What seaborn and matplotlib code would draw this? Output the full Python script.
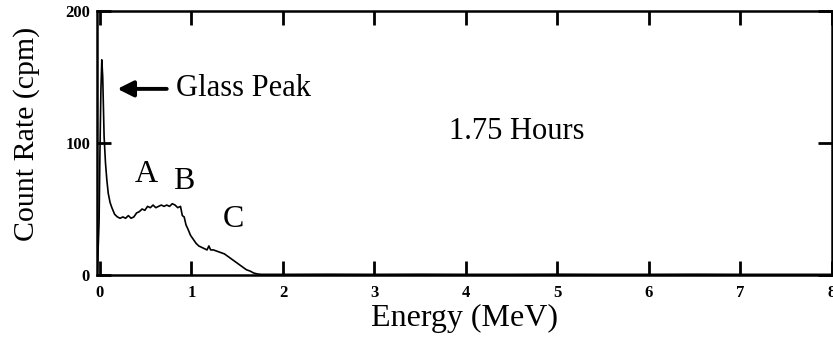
import matplotlib
matplotlib.use("Agg")
import matplotlib.pyplot as plt
import seaborn as sns
import pandas as pd

# Energy spectrum after 1.75 hours of counting
energy_mev = [-0.03, -0.01, 0.0, 0.01, 0.02, 0.03, 0.045, 0.06, 0.075, 0.09,
              0.11, 0.13, 0.16, 0.19, 0.22, 0.25, 0.28, 0.31, 0.34, 0.37,
              0.40, 0.43, 0.46, 0.49, 0.52, 0.55, 0.58, 0.61, 0.64, 0.67,
              0.70, 0.73, 0.76, 0.79, 0.82, 0.85, 0.88, 0.90, 0.92, 0.94,
              0.96, 0.99, 1.02, 1.05, 1.08, 1.11, 1.14, 1.17, 1.19, 1.21,
              1.24, 1.28, 1.32, 1.36, 1.40, 1.44, 1.48, 1.52, 1.56, 1.60,
              1.64, 1.68, 1.72, 1.76, 1.80, 2.0, 2.5, 3.0, 3.5, 4.0,
              4.5, 5.0, 5.5, 6.0, 6.5, 7.0, 7.5, 8.0]
count_rate = [0, 40, 95, 140, 163, 150, 105, 85, 72, 62,
              55, 51, 46, 44, 43, 44, 43, 45, 43, 44,
              47, 48, 50, 49, 52, 51, 53, 51, 52, 53,
              52, 53, 52, 54, 53, 51, 52, 45, 44, 38,
              35, 30, 27, 24, 22, 21, 20, 19, 22, 19,
              19, 18, 17, 16, 14, 12, 10, 8, 6, 4,
              3, 1.5, 0.8, 0.5, 0.5, 0.5, 0.6, 0.5, 0.6, 0.5,
              0.5, 0.6, 0.5, 0.5, 0.6, 0.5, 0.5, 0.5]

x_ticks = [0, 1, 2, 3, 4, 5, 6, 7, 8]
y_ticks = [0, 100, 200]

peak_labels = ["A", "B", "C"]
peak_label_x = [0.51, 0.92, 1.46]
peak_label_y = [76, 71, 42]

sns.set_theme(style="ticks")
plt.rcParams["font.family"] = ["Liberation Serif", "DejaVu Serif"]
plt.rcParams["text.color"] = "black"
plt.rcParams["axes.labelcolor"] = "black"

df = pd.DataFrame({"Energy (MeV)": energy_mev, "Count Rate (cpm)": count_rate})

fig = plt.figure(figsize=(8.33, 3.49), dpi=100)
ax = fig.add_axes([0.1164, 0.212, 0.8824, 0.7565])

sns.lineplot(data=df, x="Energy (MeV)", y="Count Rate (cpm)", ax=ax,
             color="black", linewidth=1.2, sort=False)

ax.set_xlim(-0.033, 8.0)
ax.set_ylim(0, 200)
ax.set_xticks(x_ticks)
ax.set_yticks(y_ticks)
ax.tick_params(axis="both", direction="in", length=10, width=2, labelsize=12,
               top=True, right=True, colors="black")
ax.tick_params(axis="x", pad=7)
ax.tick_params(axis="y", pad=5)
for lbl in ax.get_xticklabels() + ax.get_yticklabels():
    lbl.set_fontweight("bold")

for side in ["left", "right", "top", "bottom"]:
    ax.spines[side].set_visible(True)
    ax.spines[side].set_linewidth(1.8)
    ax.spines[side].set_color("black")

ax.set_xlabel("Energy (MeV)", fontsize=23, labelpad=2)
ax.set_ylabel("Count Rate (cpm)", fontsize=21.5)
ax.yaxis.set_label_coords(-0.078, 0.535)

ax.annotate("", xy=(0.16, 141), xytext=(0.76, 141),
            arrowprops=dict(arrowstyle="-|>,head_length=0.8,head_width=0.4",
                            color="black", linewidth=2.8))
ax.text(0.83, 141, "Glass Peak", fontsize=22, ha="left", va="center")
ax.text(4.56, 109, "1.75 Hours", fontsize=22, ha="center", va="center")

for label, lx, ly in zip(peak_labels, peak_label_x, peak_label_y):
    ax.text(lx, ly, label, fontsize=23, ha="center", va="center")

fig.savefig("out.png", dpi=100)
